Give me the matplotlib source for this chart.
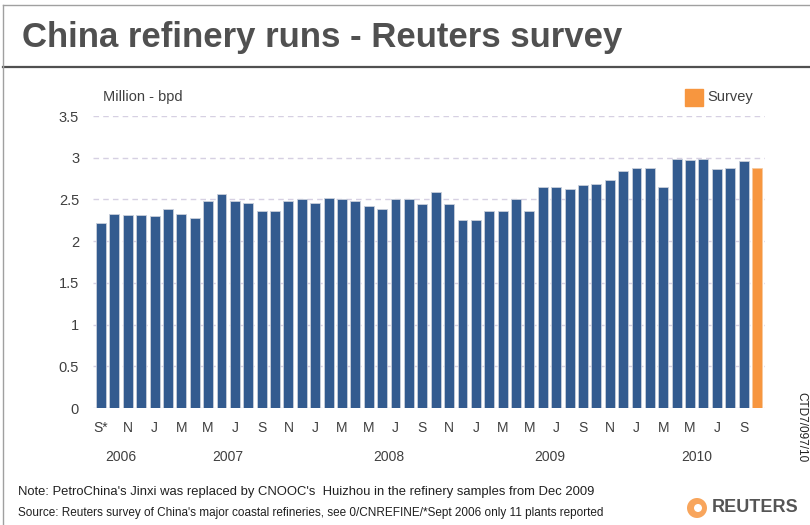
import numpy as np
import matplotlib
matplotlib.use("Agg")
import matplotlib.pyplot as plt
from matplotlib.patches import Rectangle, Ellipse
from matplotlib.lines import Line2D
import matplotlib.transforms as mtransforms

plt.rcParams["font.family"] = ["Liberation Sans", "DejaVu Sans"]

# monthly refinery runs, Sep 2006 .. Sep 2010 (million bpd)
runs = [2.22, 2.33, 2.31, 2.31, 2.30, 2.39, 2.33, 2.28, 2.48, 2.56,
        2.48, 2.46, 2.36, 2.36, 2.48, 2.51, 2.46, 2.52, 2.51, 2.48,
        2.42, 2.39, 2.51, 2.50, 2.45, 2.59, 2.44, 2.25, 2.25, 2.36,
        2.36, 2.50, 2.36, 2.65, 2.65, 2.63, 2.67, 2.68, 2.73, 2.84,
        2.88, 2.88, 2.65, 2.99, 2.97, 2.99, 2.86, 2.88, 2.96]
survey = [2.88]   # Oct 2010
month_labels = ["S*", "N", "J", "M", "M", "J", "S", "N", "J", "M", "M", "J", "S",
                "N", "J", "M", "M", "J", "S", "N", "J", "M", "M", "J", "S"]
years = ["2006", "2007", "2008", "2009", "2010"]
year_pos = [1.5, 9.5, 21.5, 33.5, 44.5]
yticks = [0, 0.5, 1, 1.5, 2, 2.5, 3, 3.5]

BLUE = "#335b8f"
ORANGE = "#f7963f"
GREY = "#404040"

fig = plt.figure(figsize=(8.10, 5.25), dpi=100)
W, H = 810.0, 525.0

ax = fig.add_axes([93 / W, (H - 408) / H, (765 - 93) / W, (408 - 116) / H])

x = np.arange(len(runs))
ax.bar(x, runs, width=0.74, color=BLUE, edgecolor="#c9cfdb", linewidth=0.6, zorder=3)
xs = np.arange(len(runs), len(runs) + len(survey))
ax.bar(xs, survey, width=0.74, color=ORANGE, edgecolor="#f6c9a0", linewidth=0.6, zorder=3)

ax.set_xlim(-0.6, len(runs) + len(survey) - 0.4)
ax.set_ylim(0, 3.5)
ax.set_yticks(yticks)
ax.set_yticklabels(["0", "0.5", "1", "1.5", "2", "2.5", "3", "3.5"])
ax.set_xticks(np.arange(0, len(runs), 2))
ax.set_xticklabels(month_labels)
for s in ax.spines.values():
    s.set_visible(False)
ax.tick_params(axis="both", length=0, colors=GREY, labelsize=10.5)
ax.tick_params(axis="y", pad=10)
ax.tick_params(axis="x", pad=9, labelsize=10)
ax.yaxis.grid(True, linestyle=(0, (4, 3)), color="#d6d0e2", linewidth=1, zorder=0)

trans = mtransforms.blended_transform_factory(ax.transData, fig.transFigure)
for yr, p in zip(years, year_pos):
    ax.text(p, (H - 457) / H, yr, transform=trans, ha="center", va="center",
            fontsize=10, color=GREY)

# title & frame
fig.text(22 / W, (H - 37) / H, "China refinery runs - Reuters survey", fontsize=25,
         fontweight="bold", color="#505050", ha="left", va="center")
fig.add_artist(Line2D([3 / W, 1], [(H - 67) / H] * 2, color="#505050", linewidth=1.6))
fig.add_artist(Line2D([3 / W, 1], [(H - 5) / H] * 2, color="#a0a0a0", linewidth=1))
fig.add_artist(Line2D([3 / W, 3 / W], [(H - 5) / H, 0], color="#a0a0a0", linewidth=1))

fig.text(103 / W, (H - 97) / H, "Million - bpd", fontsize=10.5, color=GREY,
         ha="left", va="center")

# legend
fig.add_artist(Rectangle((685 / W, (H - 106) / H), 18 / W, 17 / H, color=ORANGE,
                         transform=fig.transFigure))
fig.text(707 / W, (H - 97) / H, "Survey", fontsize=10.5, color=GREY, ha="left", va="center")

fig.text(801 / W, (H - 427) / H, "CTD7/097/10", fontsize=8.5, color="#202020",
         rotation=270, ha="center", va="center")

fig.text(18 / W, (H - 492) / H,
         "Note: PetroChina's Jinxi was replaced by CNOOC's  Huizhou in the refinery samples from Dec 2009",
         fontsize=9.35, color="#202020", ha="left", va="center")
fig.text(18 / W, (H - 513) / H,
         "Source: Reuters survey of China's major coastal refineries, see 0/CNREFINE/*Sept 2006 only 11 plants reported",
         fontsize=8.5, color="#202020", ha="left", va="center")

# reuters logo
fig.add_artist(Ellipse((697 / W, (H - 508) / H), 20 / W, 20 / H, transform=fig.transFigure,
                       facecolor=ORANGE, edgecolor="none", alpha=0.85))
fig.add_artist(Ellipse((698 / W, (H - 508) / H), 8 / W, 8 / H, transform=fig.transFigure,
                       facecolor="white", edgecolor="none"))
fig.text(712 / W, (H - 508) / H, "REUTERS", fontsize=13, fontweight="bold",
         color="#555555", ha="left", va="center")

fig.savefig("out.png", dpi=100)
